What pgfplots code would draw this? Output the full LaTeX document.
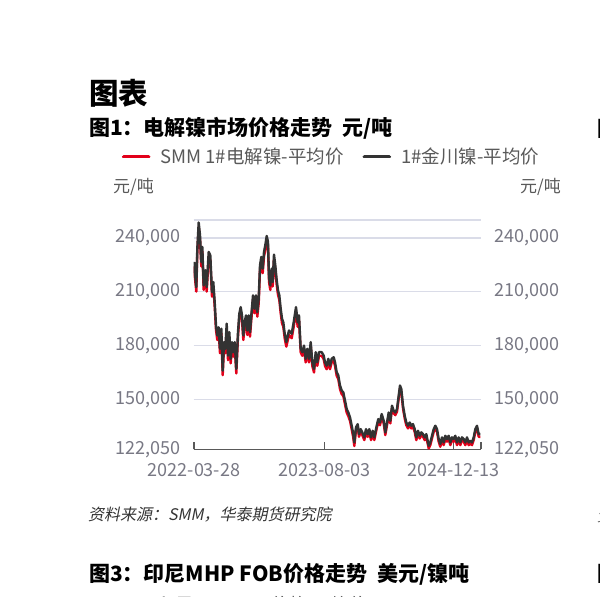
\documentclass[border=0pt]{standalone}
\usepackage{pgfplots}
\pgfplotsset{compat=1.18}
\usepackage{pgfplotstable}
\usepackage{fontspec}
\setmainfont{Noto Sans CJK SC}
\newfontfamily\slfont{Noto Sans CJK SC}[FakeSlant=0.2]
\definecolor{nired}{RGB}{226,0,26}
\definecolor{nidark}{RGB}{51,51,51}
\definecolor{gridc}{RGB}{218,220,232}
\definecolor{axisc}{RGB}{89,89,89}
\definecolor{tickc}{RGB}{120,120,132}
\definecolor{legc}{RGB}{89,89,89}

\pgfplotstableread{
x jc smm
194.0 226600 224100
195.0 220100 217600
196.3 212600 210100
197.3 234000 231500
198.7 248600 246100
200.0 241500 239000
201.3 226600 224100
202.3 235000 232500
203.7 213500 211000
205.3 222000 219500
206.7 212600 210100
208.7 232200 229700
210.3 230300 227800
212.0 209800 207300
213.3 215400 212900
214.7 204200 201700
216.0 191200 188700
217.3 185600 183100
218.7 190200 187700
220.0 178200 175700
221.3 189400 186900
222.7 166000 163500
224.0 181900 179400
225.3 178200 175700
226.7 192200 189700
228.0 174400 171900
229.3 187500 185000
230.7 172600 170100
232.0 181900 179400
233.3 176300 173800
234.7 181900 179400
236.3 167000 164500
238.0 187500 185000
239.3 197700 195200
240.7 201400 198900
242.0 196800 194300
243.3 185600 183100
244.7 193000 190500
246.0 196800 194300
247.3 188400 185900
248.7 196800 194300
250.0 187500 185000
251.3 196800 194300
253.0 208000 205500
254.7 200500 198000
256.0 208000 205500
257.3 198600 196100
258.7 206100 203600
260.0 224700 222200
261.3 229400 226900
262.7 222900 220400
264.0 232200 229700
265.3 235900 233400
266.7 241100 238600
268.0 237800 235300
269.0 218200 215700
270.3 213500 211000
271.7 222900 220400
272.7 215400 212900
274.0 230700 228200
275.3 224700 222200
276.7 216400 213900
278.0 210800 208300
279.3 208000 205500
280.7 200500 198000
282.0 195000 192500
283.3 193000 190500
284.7 186600 184100
286.3 181900 179400
289.0 188400 185900
291.7 186600 184100
293.7 193000 190500
296.0 201400 198900
297.7 193000 190500
299.0 196800 194300
300.7 178200 176200
302.3 176300 174300
304.0 180000 178000
305.7 172600 170600
307.3 178200 176200
309.0 172600 170600
310.7 181900 179900
312.3 170700 168700
314.0 167000 165000
315.7 176300 174300
317.3 170700 168700
319.0 176300 174300
321.7 176300 174300
323.7 174400 172400
325.0 170700 168700
326.7 168800 166800
328.3 172600 170600
330.0 168800 166800
331.7 172600 170600
333.7 173500 171500
335.0 170700 168700
336.7 165100 163100
338.3 163300 161300
340.0 157700 155700
341.7 154900 152900
343.3 153900 151900
345.0 149300 147300
346.7 144600 142600
348.3 142700 140700
350.0 140000 138000
351.7 135300 133300
353.3 130600 128600
354.3 126000 124000
356.0 134400 132900
357.7 136200 134700
359.0 130600 129100
360.7 133400 131900
362.3 131600 130100
364.3 128800 127300
366.0 133400 131900
367.7 130600 129100
369.3 133400 131900
371.0 128800 127300
372.7 132500 131000
374.3 128800 127300
376.7 135300 133800
378.3 139000 137500
380.0 137100 135600
381.7 141800 140300
383.7 138100 136600
385.3 131600 130100
387.0 137100 135600
388.7 142700 141200
390.3 138100 136600
392.0 146500 145000
393.7 143700 142200
395.3 142700 141200
397.0 144600 143100
398.7 152100 150600
400.0 157700 156200
401.3 155800 154300
403.0 146500 145000
404.7 140900 139400
406.3 137100 135600
408.0 135300 133800
409.7 137100 135600
411.3 135300 133800
413.0 136200 134700
414.7 133400 131900
416.3 128800 127300
418.0 132500 131000
419.7 129700 128200
421.3 131600 130100
423.0 130600 129100
424.7 128800 127300
426.3 130600 129100
428.7 124100 122600
430.3 126000 124500
432.0 129700 128200
433.7 133400 131900
435.3 135300 133800
437.0 133400 131900
438.7 127900 126400
440.3 125100 123600
442.0 128800 127300
443.7 126000 124500
445.3 129700 128200
447.0 127900 126400
448.7 129700 128200
450.3 126000 124500
452.0 128800 127300
453.7 127900 126400
455.3 129700 128200
457.0 126000 124500
458.7 128800 127300
460.3 126000 124500
462.0 128800 127300
463.7 127900 126400
465.3 126000 124500
467.0 128800 127300
468.7 126000 124500
470.3 126900 125400
472.0 126000 124500
473.7 128800 127300
475.3 133400 131900
477.0 135300 133800
478.7 130600 129100
480.3 130600 129100
}\nickeldata

\begin{document}
\begin{tikzpicture}[x=1bp,y=1bp]
\fill[white] (0bp,0bp) rectangle (600bp,597bp);

\begin{axis}[
  at={(193.5bp,147.5bp)}, anchor=south west,
  scale only axis, width=287.5bp, height=229.5bp,
  xmin=193.5, xmax=481, ymin=122050, ymax=250000,
  axis x line*=bottom, axis y line*=left,
  x axis line style={draw=axisc, line width=1.2bp},
  y axis line style={draw=none},
  ytick style={draw=none},
  xtick={194,324.3,453.3},
  xticklabels={2022-03-28,2023-08-03,2024-12-13},
  extra x ticks={481}, extra x tick labels={},
  extra x tick style={tick style={draw=axisc, line width=1.2bp}},
  xtick style={draw=axisc, line width=1.2bp},
  tick align=inside, major tick length=7bp,
  ytick={122050,150000,180000,210000,240000},
  extra y ticks={250000}, extra y tick labels={},
  extra y tick style={grid=major, tick style={draw=none}},
  ymajorgrids, grid style={draw=gridc, line width=1.3bp},
  scaled y ticks=false,
  /pgf/number format/assume math mode=true,
  yticklabel style={/pgf/number format/fixed, /pgf/number format/1000 sep={,}, inner sep=0pt, xshift=-13bp},
  xticklabel style={inner sep=0pt, yshift=-13.5bp},
  tick label style={font=\fontsize{18bp}{20bp}\selectfont, text=tickc},
  legend columns=2,
  legend style={draw=none, fill=none, inner sep=0pt, at={(axis description cs:-0.2497,1.2758)}, anchor=west,
    font=\fontsize{18.5bp}{20bp}\selectfont, text=legc,
    nodes={inner sep=0pt},
    /tikz/every odd column/.append style={column sep=10bp},
    /tikz/every even column/.append style={column sep=19bp}},
  legend image code/.code={\draw[#1, line width=3.6bp, line cap=round] (1.8bp,0bp) -- (26.7bp,0bp);},
]
\addplot[nired, line width=2.4bp, line join=round] table[x=x, y=smm] {\nickeldata};
\addlegendentry{SMM 1\#电解镍-平均价}
\addplot[nidark, line width=2.4bp, line join=round] table[x=x, y=jc] {\nickeldata};
\addlegendentry{1\#金川镍-平均价}
\end{axis}

\begin{axis}[
  at={(193.5bp,147.5bp)}, anchor=south west,
  scale only axis, width=287.5bp, height=229.5bp,
  xmin=193.5, xmax=481, ymin=122050, ymax=250000,
  axis x line=none, axis y line*=right,
  y axis line style={draw=none}, ytick style={draw=none},
  ytick={122050,150000,180000,210000,240000},
  scaled y ticks=false,
  /pgf/number format/assume math mode=true,
  yticklabel style={/pgf/number format/fixed, /pgf/number format/1000 sep={,}, inner sep=0pt, xshift=13bp},
  tick label style={font=\fontsize{18bp}{20bp}\selectfont, text=tickc},
]
\end{axis}

% headings
\node[anchor=west,inner sep=0pt,font=\fontsize{29.5bp}{32bp}\selectfont\bfseries] at (89bp,503.5bp) {图表};
\node[anchor=west,inner sep=0pt,font=\fontsize{21bp}{23bp}\selectfont\bfseries] at (89bp,468.5bp) {图1：电解镍市场价格走势\ \ 元/吨};
\node[anchor=west,inner sep=0pt,font=\fontsize{21bp}{23bp}\selectfont\bfseries] at (597bp,468.5bp) {图2};
\node[anchor=west,inner sep=0pt,font=\fontsize{17bp}{19bp}\selectfont,text=legc] at (113bp,410bp) {元/吨};
\node[anchor=east,inner sep=0pt,font=\fontsize{17bp}{19bp}\selectfont,text=legc] at (561bp,410bp) {元/吨};
\node[anchor=west,inner sep=0pt,font=\fontsize{16bp}{18bp}\slfont,text=black!80] at (88bp,82bp) {资料来源：SMM，华泰期货研究院};
\node[anchor=west,inner sep=0pt,font=\fontsize{16bp}{18bp}\slfont,text=black!60] at (597bp,82bp) {资料};
\node[anchor=west,inner sep=0pt,font=\fontsize{21bp}{23bp}\selectfont\bfseries] at (89bp,23bp) {图3：印尼MHP FOB价格走势\ \ 美元/镍吨};
\node[anchor=west,inner sep=0pt,font=\fontsize{21bp}{23bp}\selectfont\bfseries] at (597bp,23bp) {图4};
\node[anchor=west,inner sep=0pt,font=\fontsize{18bp}{20bp}\selectfont,text=legc] at (157bp,-8bp) {印尼MHP FOB价格-平均价};

\pgfresetboundingbox
\path[use as bounding box] (0bp,0bp) rectangle (600bp,597bp);
\end{tikzpicture}
\end{document}
